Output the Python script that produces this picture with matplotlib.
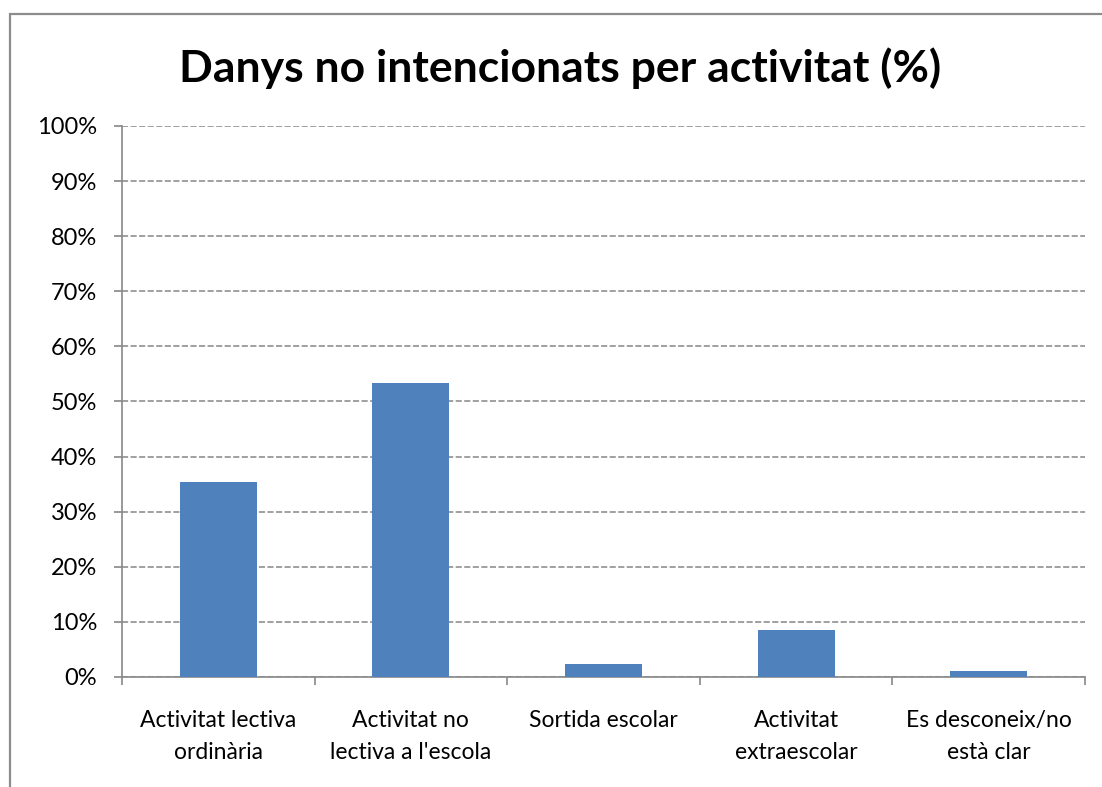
import numpy as np
import matplotlib
matplotlib.use("Agg")
import matplotlib.pyplot as plt
from matplotlib.patches import Rectangle

# dades llegides del gràfic
categories = ["Activitat lectiva\nordinària", "Activitat no\nlectiva a l'escola",
              "Sortida escolar", "Activitat\nextraescolar", "Es desconeix/no\nestà clar"]
valors = [35.3, 53.4, 2.4, 8.5, 1.1]
yticks = [0, 10, 20, 30, 40, 50, 60, 70, 80, 90, 100]
ytick_labels = [str(v) + "%" for v in yticks]

plt.rcParams['font.family'] = ['Lato', 'DejaVu Sans']

fig = plt.figure(figsize=(11.02, 7.87), dpi=100)
ax = fig.add_axes([0.1107, 0.1398, 0.8739, 0.7001])

x = np.arange(len(categories))
ax.bar(x, valors, width=0.4, color="#4F81BD", zorder=3)

ax.set_xlim(-0.5, len(categories) - 0.5)
ax.set_ylim(0, 100)

# graella discontinua
ax.set_yticks(yticks)
ax.set_yticklabels(ytick_labels, fontsize=17)
ax.yaxis.grid(True, color="#868686", linestyle=(0, (4, 1.6)), linewidth=1.1, zorder=0)

ax.set_xticks(x)
ax.set_xticklabels(categories, fontsize=16.5, linespacing=1.6)
ax.set_xticks(np.arange(-0.5, len(categories), 1.0), minor=True)
ax.tick_params(axis="x", which="major", length=0, pad=24)
ax.tick_params(axis="x", which="minor", length=6, width=1.2, color="#888888", direction="out")
ax.tick_params(axis="y", length=6, width=1.2, color="#888888", direction="out", pad=12)

for s in ["top", "right"]:
    ax.spines[s].set_visible(False)
for s in ["left", "bottom"]:
    ax.spines[s].set_color("#888888")
    ax.spines[s].set_linewidth(1.2)

fig.text(560 / 1102, 1 - 68 / 787, "Danys no intencionats per activitat (%)",
         ha="center", va="center", fontsize=32, fontweight="bold")

# marc del gràfic (tallat a la dreta i a baix)
fig.patches.append(Rectangle((10 / 1102, -0.05), 1.2, 1 - 14 / 787 + 0.05,
                             transform=fig.transFigure, fill=False,
                             edgecolor="#8c8c8c", linewidth=1.6))

fig.savefig("out.png", dpi=100)
